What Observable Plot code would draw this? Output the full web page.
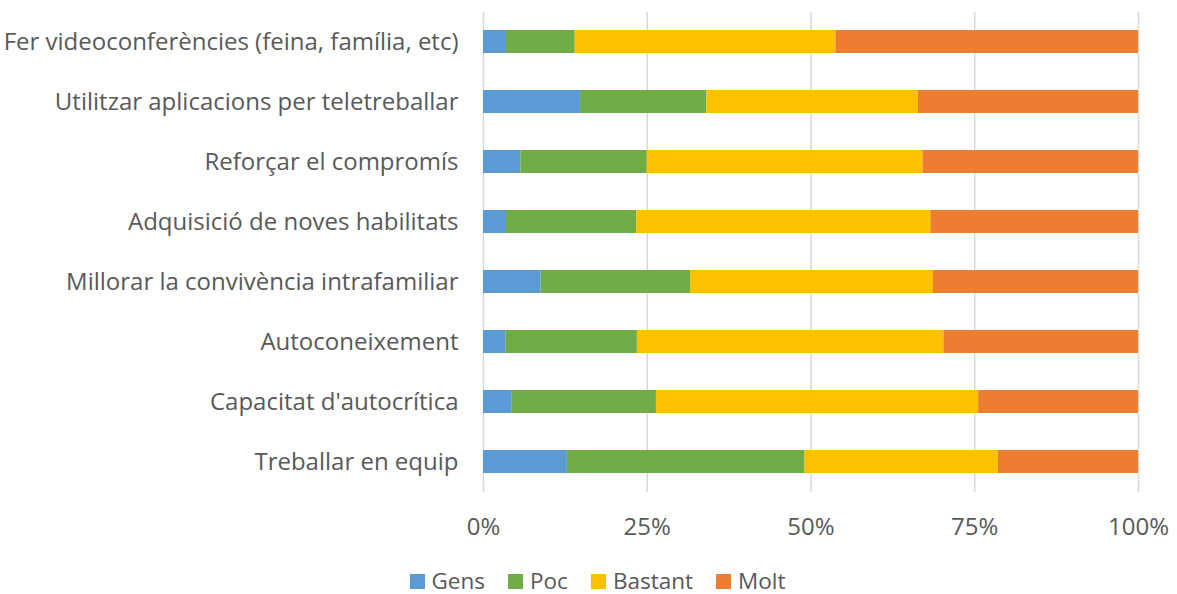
<!DOCTYPE html>
<html>
<head>
<meta charset="utf-8">
<script src="https://cdn.jsdelivr.net/npm/d3@7"></script>
<script src="https://cdn.jsdelivr.net/npm/@observablehq/plot@0.6"></script>
<style>
  body { margin: 0; background: #fff; font-family: "Open Sans", sans-serif; }
  #chart { width: 1177px; }
  .legend { display: flex; justify-content: center; gap: 23px; font-size: 22.5px; color: #595959; margin-top: 14px; padding-left: 18px; line-height: 30px; }
  .legend span.item { display: flex; align-items: center; }
  .legend span.sw { width: 15px; height: 15px; display: inline-block; margin-right: 7px; }
</style>
</head>
<body>
<div id="chart"></div>
<script>
const categories = [
  "Fer videoconferències (feina, família, etc)",
  "Utilitzar aplicacions per teletreballar",
  "Reforçar el compromís",
  "Adquisició de noves habilitats",
  "Millorar la convivència intrafamiliar",
  "Autoconeixement",
  "Capacitat d'autocrítica",
  "Treballar en equip"
];
const seriesNames = ["Gens", "Poc", "Bastant", "Molt"];
const seriesColors = ["#5b9bd5", "#70ad47", "#ffc000", "#ed7d31"];
const gens    = [3.5, 14.8, 5.7, 3.5, 8.8, 3.4, 4.3, 12.8];
const poc     = [10.5, 19.3, 19.3, 19.9, 22.8, 20.1, 22.1, 36.3];
const bastant = [39.8, 32.3, 42.1, 44.9, 37.1, 46.8, 49.2, 29.5];
const molt    = [46.2, 33.6, 32.9, 31.7, 31.3, 29.7, 24.4, 21.4];
const xTicks = [0, 25, 50, 75, 100];

const seriesValues = [gens, poc, bastant, molt];
const data = [];
seriesNames.forEach((s, si) => {
  categories.forEach((c, ci) => {
    data.push({category: c, series: s, value: seriesValues[si][ci]});
  });
});

const chart = Plot.plot({
  width: 1177,
  height: 552,
  marginLeft: 483,
  marginRight: 39,
  marginTop: 12,
  marginBottom: 60,
  style: {fontFamily: "'Open Sans', sans-serif", fontSize: "24px", color: "#595959", background: "#fff"},
  x: {domain: [0, 100], ticks: xTicks, tickFormat: d => d + "%", label: null, tickSize: 0, tickPadding: 25},
  y: {domain: categories, label: null, tickSize: 0, tickPadding: 25, paddingInner: 0.61, paddingOuter: 0.305},
  color: {domain: seriesNames, range: seriesColors},
  marks: [
    Plot.ruleX(xTicks, {stroke: "#d9d9d9", strokeWidth: 1.5}),
    Plot.barX(data, Plot.stackX({x: "value", y: "category", fill: "series", order: null, inset: 0})),
  ]
});
document.getElementById("chart").appendChild(chart);

const legend = document.createElement("div");
legend.className = "legend";
seriesNames.forEach((s, i) => {
  const item = document.createElement("span");
  item.className = "item";
  const sw = document.createElement("span");
  sw.className = "sw";
  sw.style.background = seriesColors[i];
  item.appendChild(sw);
  item.appendChild(document.createTextNode(s));
  legend.appendChild(item);
});
document.getElementById("chart").appendChild(legend);
</script>
</body>
</html>
